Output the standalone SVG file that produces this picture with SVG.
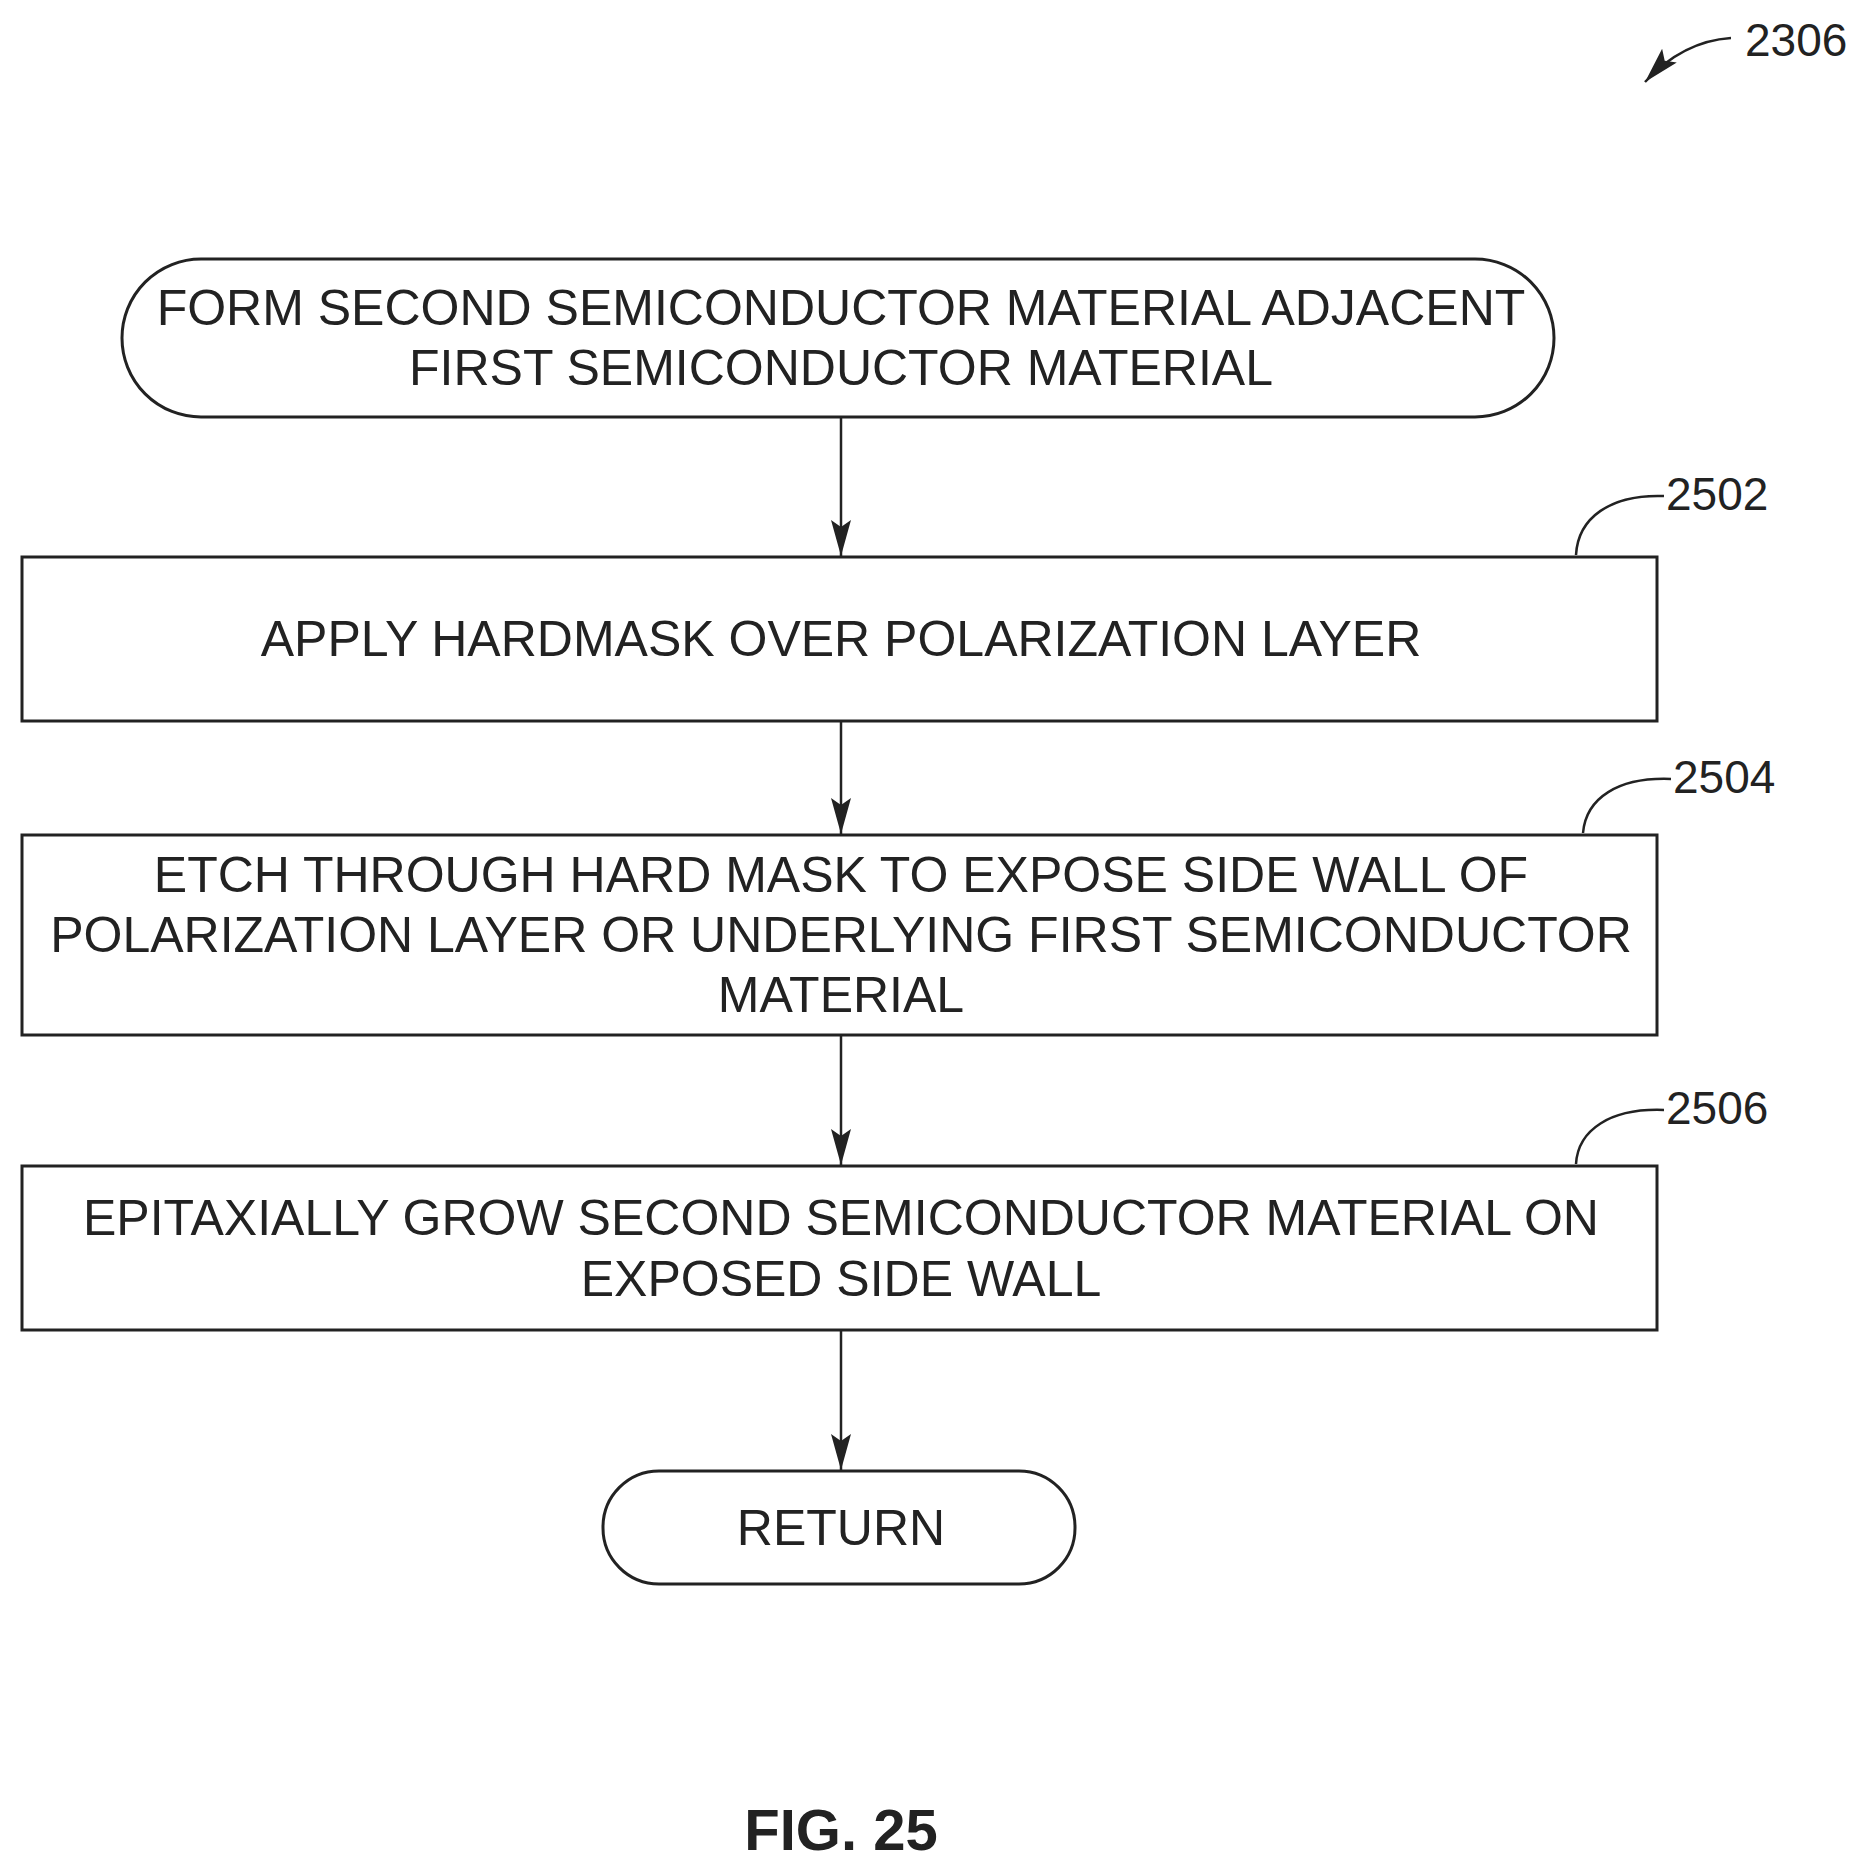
<svg xmlns="http://www.w3.org/2000/svg" width="1869" height="1862" viewBox="0 0 1869 1862">
<defs>
<marker id="ah" markerWidth="36" markerHeight="22" refX="36" refY="11" orient="auto" markerUnits="userSpaceOnUse" viewBox="0 0 36 22"><path d="M0,1 L36,11 L0,21 L7,11 Z" fill="#222"/></marker>
<style>
.b{fill:#fff;stroke:#222;stroke-width:3}
.t{font-family:"Liberation Sans",Arial,sans-serif;font-size:50px;fill:#222;text-anchor:middle}
.r{font-family:"Liberation Sans",Arial,sans-serif;font-size:46px;fill:#222}
.l{fill:none;stroke:#222;stroke-width:2.5}
</style>
</defs>
<rect width="1869" height="1862" fill="#fff"/>
<g id="ref2306"><text class="r" x="1745" y="56">2306</text><path class="l" d="M1731,38 C1700,40 1670,55 1645,82" marker-end="url(#ah)"/></g>
<g id="start"><rect class="b" x="122" y="259" width="1432" height="158" rx="79"/><text class="t" x="841" y="325">FORM SECOND SEMICONDUCTOR MATERIAL ADJACENT</text><text class="t" x="841" y="385">FIRST SEMICONDUCTOR MATERIAL</text></g>
<g id="n2502"><rect class="b" x="22" y="557" width="1635" height="164"/><text class="t" x="841" y="656">APPLY HARDMASK OVER POLARIZATION LAYER</text><text class="r" x="1666" y="510">2502</text><path class="l" d="M1664,496 C1610,494 1578,518 1576,555"/></g>
<g id="n2504"><rect class="b" x="22" y="835" width="1635" height="200"/><text class="t" x="841" y="892">ETCH THROUGH HARD MASK TO EXPOSE SIDE WALL OF</text><text class="t" x="841" y="952">POLARIZATION LAYER OR UNDERLYING FIRST SEMICONDUCTOR</text><text class="t" x="841" y="1012">MATERIAL</text><text class="r" x="1673" y="793">2504</text><path class="l" d="M1671,779 C1618,777 1586,798 1583,833"/></g>
<g id="n2506"><rect class="b" x="22" y="1166" width="1635" height="164"/><text class="t" x="841" y="1235">EPITAXIALLY GROW SECOND SEMICONDUCTOR MATERIAL ON</text><text class="t" x="841" y="1296">EXPOSED SIDE WALL</text><text class="r" x="1666" y="1124">2506</text><path class="l" d="M1664,1110 C1610,1108 1578,1130 1576,1164"/></g>
<g id="ret"><rect class="b" x="603" y="1471" width="472" height="113" rx="56"/><text class="t" x="841" y="1545">RETURN</text></g>
<g id="connectors">
<line class="l" x1="841" y1="417" x2="841" y2="556" marker-end="url(#ah)"/>
<line class="l" x1="841" y1="721" x2="841" y2="834" marker-end="url(#ah)"/>
<line class="l" x1="841" y1="1035" x2="841" y2="1165" marker-end="url(#ah)"/>
<line class="l" x1="841" y1="1330" x2="841" y2="1470" marker-end="url(#ah)"/>
</g>
<text x="841" y="1850" font-family="Liberation Sans,Arial,sans-serif" font-weight="bold" font-size="58" fill="#222" text-anchor="middle">FIG. 25</text>
</svg>
